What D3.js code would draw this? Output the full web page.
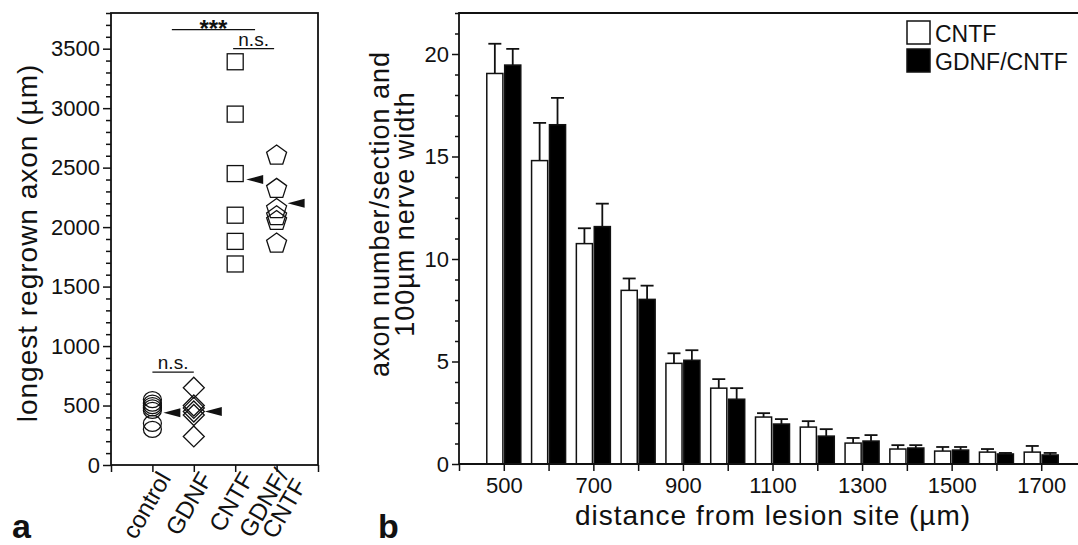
<!DOCTYPE html>
<html>
<head>
<meta charset="utf-8">
<script src="https://cdn.jsdelivr.net/npm/d3@7"></script>
<style>
  body { margin: 0; background: #fff; }
  svg { display: block; font-family: 'Liberation Sans', Arial, sans-serif; }
</style>
</head>
<body>
<div class="chart"></div>
<script>
// panel a: longest regrown axon per animal
const groups = ['control', 'GDNF', 'CNTF', 'GDNF/CNTF']
const controlVals = [550, 520, 500, 480, 460, 350, 300]
const gdnfVals = [650, 500, 480, 450, 420, 240]
const cntfVals = [3390, 2950, 2450, 2100, 1880, 1690]
const comboVals = [2610, 2330, 2160, 2100, 2060, 1870]
const groupMeans = [440, 450, 2400, 2200]
const yTicksA = [0, 500, 1000, 1500, 2000, 2500, 3000, 3500]
const sigMarks = [
  { x0: 1.47, x1: 3.48, y: 3660, label: '***' },
  { x0: 2.95, x1: 3.94, y: 3500, label: 'n.s.' },
  { x0: 1, x1: 2, y: 780, label: 'n.s.' }
]

// panel b: axon number per distance
const distances = [500, 600, 700, 800, 900, 1000, 1100, 1200, 1300, 1400, 1500, 1600, 1700]
const seriesNames = ['CNTF', 'GDNF/CNTF']
const cntfMean = [19.05, 14.8, 10.75, 8.47, 4.91, 3.7, 2.29, 1.8, 1.02, 0.73, 0.63, 0.58, 0.58]
const cntfErr = [1.45, 1.84, 0.75, 0.58, 0.49, 0.44, 0.19, 0.29, 0.25, 0.19, 0.2, 0.15, 0.3]
const comboMean = [19.46, 16.55, 11.58, 8.03, 5.06, 3.16, 1.95, 1.36, 1.12, 0.78, 0.68, 0.49, 0.44]
const comboErr = [0.79, 1.31, 1.12, 0.67, 0.49, 0.54, 0.24, 0.34, 0.29, 0.14, 0.15, 0.05, 0.1]
const yTicksB = [0, 5, 10, 15, 20]
const xLabelsB = [500, 700, 900, 1100, 1300, 1500, 1700]

const W = 1078
const H = 545
const ink = '#111'

const svg = d3.select('.chart')
  .append('svg')
  .attr('width', W)
  .attr('height', H)

// strip d3's default axis font so the svg font is used
const plainText = g => g
  .attr('font-family', null)
  .attr('font-size', null)
  .call(g => g.selectAll('text').attr('font-size', 22).attr('fill', ink))

// ---------- panel a ----------
const xA = d3.scaleLinear().domain([0, 5]).range([111, 318])
const yA = d3.scaleLinear().domain([0, 3800]).range([465, 13])

const pa = svg.append('g')

pa.append('g')
  .attr('transform', `translate(${xA(0)},0)`)
  .call(d3.axisLeft(yA).tickValues(d3.range(0, 3801, 100).filter(v => v % 500)).tickSize(5).tickFormat(''))
  .call(g => g.select('.domain').remove())

pa.append('g')
  .attr('transform', `translate(${xA(0)},0)`)
  .call(d3.axisLeft(yA).tickValues(yTicksA).tickSize(8).tickPadding(3).tickSizeOuter(0).tickFormat(d3.format('d')))
  .call(g => g.select('.domain').remove())
  .call(plainText)

pa.append('g')
  .attr('transform', `translate(0,${yA(0)})`)
  .call(d3.axisBottom(xA).tickValues([0, 1, 2, 3, 4, 5]).tickSize(7).tickFormat('').tickSizeOuter(0))
  .call(g => g.select('.domain').remove())

pa.selectAll('.tick line').attr('stroke', ink).attr('stroke-width', 1.5)

// frame
pa.append('rect')
  .attr('x', xA(0)).attr('y', yA(3800))
  .attr('width', xA(5) - xA(0)).attr('height', yA(0) - yA(3800))
  .attr('fill', 'none').attr('stroke', ink).attr('stroke-width', 1.8)

// category labels
const catLab = pa.selectAll('.cat').data(groups).enter()
  .append('text')
  .attr('class', 'cat')
  .attr('transform', (d, i) => `translate(${xA(i + 1) + 12},${yA(0) + 9}) rotate(-60)`)
  .attr('text-anchor', 'end')
  .attr('font-size', 24)
  .attr('fill', ink)
catLab.each(function (d) {
  const parts = d.includes('/') ? [d.split('/')[0] + '/', d.split('/')[1]] : [d]
  d3.select(this).selectAll('tspan').data(parts).enter()
    .append('tspan')
    .attr('x', 0)
    .attr('dy', (p, j) => j === 0 ? (parts.length > 1 ? '0.05em' : '0.35em') : '0.85em')
    .text(p => p)
})

pa.append('text')
  .attr('transform', `translate(37,${(yA(0) + yA(3800)) / 2 + 4}) rotate(-90)`)
  .attr('text-anchor', 'middle')
  .attr('font-size', 28)
  .attr('letter-spacing', 1)
  .attr('fill', ink)
  .text('longest regrown axon (µm)')

// markers
const mk = { stroke: ink, width: 1.3 }
pa.selectAll('.ctl').data(controlVals).enter()
  .append('ellipse')
  .attr('cx', xA(1)).attr('cy', d => yA(d))
  .attr('rx', 9).attr('ry', 8)
  .attr('fill', 'none').attr('stroke', mk.stroke).attr('stroke-width', mk.width)

const diamond = r => `M0,${-r}L${r},0L0,${r}L${-r},0Z`
pa.selectAll('.gdnf').data(gdnfVals).enter()
  .append('path')
  .attr('d', diamond(10.5))
  .attr('transform', d => `translate(${xA(2)},${yA(d)})`)
  .attr('fill', 'none').attr('stroke', mk.stroke).attr('stroke-width', mk.width)

pa.selectAll('.cntf').data(cntfVals).enter()
  .append('rect')
  .attr('x', xA(3) - 8).attr('y', d => yA(d) - 8)
  .attr('width', 16).attr('height', 16)
  .attr('fill', 'none').attr('stroke', mk.stroke).attr('stroke-width', mk.width)

const pent = r => d3.line()(d3.range(5).map(k => {
  const a = -Math.PI / 2 + k * 2 * Math.PI / 5
  return [r * Math.cos(a), r * Math.sin(a) + 1]
})) + 'Z'
pa.selectAll('.combo').data(comboVals).enter()
  .append('path')
  .attr('d', pent(10.5))
  .attr('transform', d => `translate(${xA(4)},${yA(d)})`)
  .attr('fill', 'none').attr('stroke', mk.stroke).attr('stroke-width', mk.width)

// mean arrows
pa.selectAll('.mean').data(groupMeans).enter()
  .append('path')
  .attr('d', 'M0,0L17,-4.5L17,4.5Z')
  .attr('transform', (d, i) => `translate(${xA(i + 1) + 11},${yA(d)})`)
  .attr('fill', ink)

// significance
sigMarks.forEach(s => {
  pa.append('line')
    .attr('x1', xA(s.x0)).attr('x2', xA(s.x1))
    .attr('y1', yA(s.y)).attr('y2', yA(s.y))
    .attr('stroke', ink).attr('stroke-width', 1.3)
  pa.append('text')
    .attr('x', (xA(s.x0) + xA(s.x1)) / 2)
    .attr('y', yA(s.y) + (s.label === '***' ? 7 : -3))
    .attr('text-anchor', 'middle')
    .attr('font-size', s.label === '***' ? 24 : 19)
    .attr('font-weight', s.label === '***' ? 'bold' : null)
    .attr('fill', ink)
    .text(s.label)
})

svg.append('text')
  .attr('x', 12).attr('y', 538)
  .attr('font-size', 34).attr('font-weight', 'bold').attr('fill', ink)
  .text('a')

// ---------- panel b ----------
const xB = d3.scaleLinear().domain([400, 1800]).range([459, 1086])
const yB = d3.scaleLinear().domain([0, 22]).range([464, 13])
const xSub = d3.scaleBand().domain(seriesNames).range([-17, 17]).paddingInner(0.1)

const pb = svg.append('g')

pb.append('g')
  .attr('transform', `translate(${xB(400)},0)`)
  .call(d3.axisLeft(yB).tickValues(d3.range(0, 23, 1).filter(v => v % 5)).tickSize(4).tickFormat(''))
  .call(g => g.select('.domain').remove())

pb.append('g')
  .attr('transform', `translate(${xB(400)},0)`)
  .call(d3.axisLeft(yB).tickValues(yTicksB).tickSize(7).tickPadding(3).tickSizeOuter(0))
  .call(g => g.select('.domain').remove())
  .call(plainText)

pb.append('g')
  .attr('transform', `translate(0,${yB(0)})`)
  .call(d3.axisBottom(xB).tickValues(d3.range(400, 1801, 100)).tickSize(7).tickPadding(6).tickSizeOuter(0)
    .tickFormat(d => xLabelsB.includes(d) ? d : ''))
  .call(g => g.select('.domain').remove())
  .call(plainText)

pb.selectAll('.tick line').attr('stroke', ink).attr('stroke-width', 1.5)

// bars
const barData = []
distances.forEach((d, i) => {
  barData.push({ d, s: 'CNTF', v: cntfMean[i], e: cntfErr[i] })
  barData.push({ d, s: 'GDNF/CNTF', v: comboMean[i], e: comboErr[i] })
})

const bars = pb.selectAll('.bar').data(barData).enter().append('g')
const mid = d => xB(d.d) + xSub(d.s) + xSub.bandwidth() / 2

// error bars (upward only)
bars.append('line')
  .attr('x1', mid).attr('x2', mid)
  .attr('y1', d => yB(d.v)).attr('y2', d => yB(d.v + d.e))
  .attr('stroke', ink).attr('stroke-width', 1.8)
bars.append('line')
  .attr('x1', d => mid(d) - 6.5).attr('x2', d => mid(d) + 6.5)
  .attr('y1', d => yB(d.v + d.e)).attr('y2', d => yB(d.v + d.e))
  .attr('stroke', ink).attr('stroke-width', 1.8)

bars.append('rect')
  .attr('x', d => xB(d.d) + xSub(d.s))
  .attr('y', d => yB(d.v))
  .attr('width', xSub.bandwidth())
  .attr('height', d => yB(0) - yB(d.v))
  .attr('fill', d => d.s === 'CNTF' ? '#fff' : '#000')
  .attr('stroke', ink)
  .attr('stroke-width', 1.5)

// frame lines
pb.append('path')
  .attr('d', `M${W},${yB(22)}H${xB(400)}V${yB(0)}H${W}`)
  .attr('fill', 'none').attr('stroke', ink).attr('stroke-width', 1.8)

// legend
const legend = pb.append('g')
seriesNames.forEach((s, i) => {
  legend.append('rect')
    .attr('x', 907).attr('y', 21 + i * 28)
    .attr('width', 23).attr('height', 23)
    .attr('fill', s === 'CNTF' ? '#fff' : '#000')
    .attr('stroke', ink).attr('stroke-width', 1.5)
  legend.append('text')
    .attr('x', 935).attr('y', 42 + i * 28)
    .attr('font-size', 23).attr('fill', ink)
    .text(s)
})

pb.append('text')
  .attr('transform', `translate(389,214) rotate(-90)`)
  .attr('text-anchor', 'middle')
  .attr('font-size', 27)
  .attr('letter-spacing', 1)
  .attr('fill', ink)
  .text('axon number/section and')
pb.append('text')
  .attr('transform', `translate(414,214) rotate(-90)`)
  .attr('text-anchor', 'middle')
  .attr('font-size', 27)
  .attr('letter-spacing', 1)
  .attr('fill', ink)
  .text('100µm nerve width')

pb.append('text')
  .attr('x', 773).attr('y', 525)
  .attr('text-anchor', 'middle')
  .attr('font-size', 28)
  .attr('letter-spacing', 1)
  .attr('fill', ink)
  .text('distance from lesion site (µm)')

svg.append('text')
  .attr('x', 378).attr('y', 538)
  .attr('font-size', 34).attr('font-weight', 'bold').attr('fill', ink)
  .text('b')
</script>
</body>
</html>
